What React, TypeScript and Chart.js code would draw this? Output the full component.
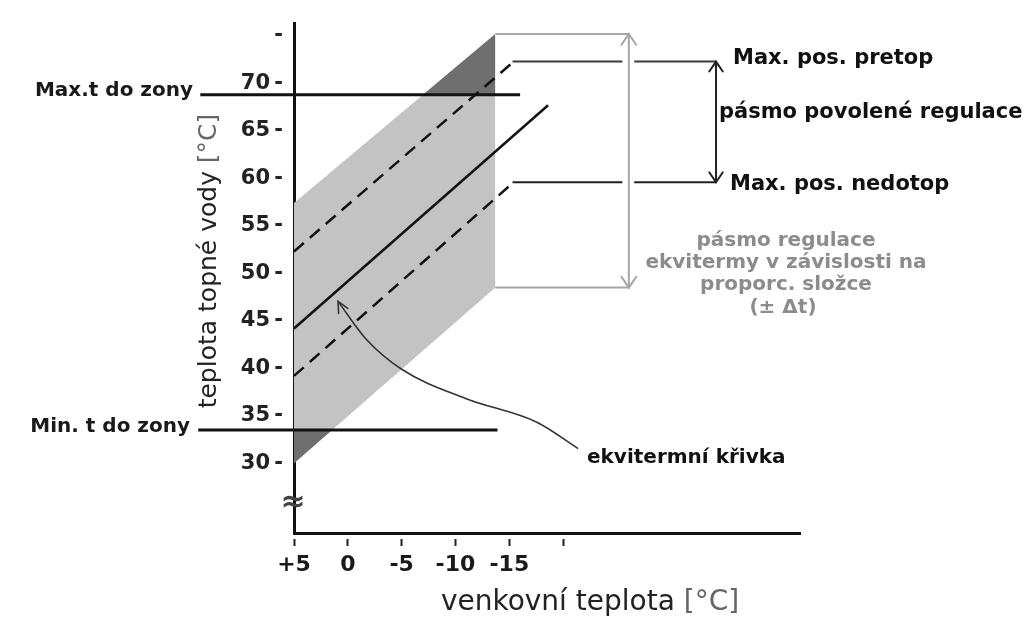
import React, { useEffect, useRef } from "react";
import { Chart, registerables } from "chart.js";

Chart.register(...registerables);

// ---------- data ----------
const X_TICKS = [5, 0, -5, -10, -15, -20];
const X_TICK_LABELS = ["+5", "0", "-5", "-10", "-15", ""];
const Y_TICKS = [30, 35, 40, 45, 50, 55, 60, 65, 70, 75];
const Y_TICK_LABELS = ["30", "35", "40", "45", "50", "55", "60", "65", "70", ""];
const X_MIN = -42;
const X_MAX = 5;
const Y_MIN = 22.66;
const Y_MAX = 76.3;

// regulation band (grey parallelogram)
const BAND_X = [5, -13.7];
const BAND_TOP = [57.4, 75.2];
const BAND_BOTTOM = [30, 48.5];
// zone limits
const MAX_T = 68.8;
const MIN_T = 33.5;
const MAX_LINE_X = [13.7, -16];
const MIN_LINE_X = [13.9, -13.9];
// parts of the band outside the zone limits (dark)
const OVER_MAX_X = [-6.97, -13.7];
const OVER_MAX_Y = [68.8, 75.2];
const UNDER_MIN_X = [5, 1.46];
const UNDER_MIN_Y = [30, 33.5];
// heating curve and its allowed deviations
const CURVE_X = [5, -18.6];
const CURVE_Y = [44.2, 67.7];
const UPPER_X = [5, -15.1];
const UPPER_Y = [52.3, 72.0];
const LOWER_X = [5, -15.3];
const LOWER_Y = [39.2, 59.5];
const PRETOP = 72.3;
const NEDOTOP = 59.6;
const LIMIT_X = [-15.3, -25.5, -26.05, -26.6, -34.2];
// proportional regulation bracket (grey)
const REG_X = [-13.7, -26.1, -26.1, -13.7];
const REG_Y = [75.2, 75.2, 48.5, 48.5];
// allowed regulation bracket (black)
const BRACKET_X = [-34.2, -34.2];
const BRACKET_Y = [PRETOP, NEDOTOP];
// pointer to the heating curve
const POINTER_X = [0.91, -1.6, -5.0, -11.0, -17.6, -21.39];
const POINTER_Y = [47.05, 43.2, 39.9, 36.8, 34.3, 31.55];

const FONT = '"DejaVu Sans", Verdana, sans-serif';

const pts = (xs: number[], ys: (number | null)[]) => xs.map((x, i) => ({ x, y: ys[i] }));

function arrowHead(
  ctx: CanvasRenderingContext2D,
  tx: number,
  ty: number,
  fx: number,
  fy: number,
  len: number,
  spread: number,
  color: string,
  width: number
) {
  const ang = Math.atan2(ty - fy, tx - fx);
  ctx.save();
  ctx.strokeStyle = color;
  ctx.lineWidth = width;
  ctx.lineCap = "round";
  ctx.beginPath();
  ctx.moveTo(tx - len * Math.cos(ang - spread), ty - len * Math.sin(ang - spread));
  ctx.lineTo(tx, ty);
  ctx.lineTo(tx - len * Math.cos(ang + spread), ty - len * Math.sin(ang + spread));
  ctx.stroke();
  ctx.restore();
}

function text(
  ctx: CanvasRenderingContext2D,
  s: string,
  x: number,
  y: number,
  font: string,
  color: string,
  align: CanvasTextAlign = "left"
) {
  ctx.save();
  ctx.font = font;
  ctx.fillStyle = color;
  ctx.textAlign = align;
  ctx.textBaseline = "middle";
  ctx.fillText(s, x, y);
  ctx.restore();
}

const annotations = {
  id: "annotations",
  afterDraw(chart: any) {
    const ctx: CanvasRenderingContext2D = chart.ctx;
    const X = chart.scales.x;
    const Y = chart.scales.y;
    const px = (v: number) => X.getPixelForValue(v);
    const py = (v: number) => Y.getPixelForValue(v);

    // arrow heads of the brackets
    arrowHead(ctx, px(REG_X[1]), py(REG_Y[1]), px(REG_X[1]), py(REG_Y[1]) + 10, 13, 0.6, "#a6a6a6", 2);
    arrowHead(ctx, px(REG_X[2]), py(REG_Y[2]), px(REG_X[2]), py(REG_Y[2]) - 10, 13, 0.6, "#a6a6a6", 2);
    arrowHead(ctx, px(BRACKET_X[0]), py(BRACKET_Y[0]), px(BRACKET_X[0]), py(BRACKET_Y[0]) + 10, 12, 0.6, "#222", 2);
    arrowHead(ctx, px(BRACKET_X[1]), py(BRACKET_Y[1]), px(BRACKET_X[1]), py(BRACKET_Y[1]) - 10, 12, 0.6, "#222", 2);
    // pointer arrow head
    arrowHead(ctx, px(POINTER_X[0]), py(POINTER_Y[0]), px(POINTER_X[0]) + 6, py(POINTER_Y[0]) + 11, 12, 0.45, "#333", 1.6);

    // axis break
    text(ctx, "\u2248", X.left - 1, 503, `bold 30px ${FONT}`, "#444", "center");

    // left labels
    const lab = `bold 20px ${FONT}`;
    text(ctx, "Max.t do zony", 193, py(MAX_T) - 4, lab, "#1a1a1a", "right");
    text(ctx, "Min. t do zony", 190, py(MIN_T) - 3, lab, "#1a1a1a", "right");

    // right labels
    const rl = `bold 21px ${FONT}`;
    text(ctx, "Max. pos. pretop", 733, py(PRETOP) - 3, rl, "#111", "left");
    text(ctx, "pásmo povolené regulace", 719, 113, rl, "#111", "left");
    text(ctx, "Max. pos. nedotop", 730, py(NEDOTOP) + 2, rl, "#111", "left");

    const gl = `bold 20px ${FONT}`;
    const gc = "#8c8c8c";
    text(ctx, "pásmo regulace", 786, 241, gl, gc, "center");
    text(ctx, "ekvitermy v závislosti na", 786, 263, gl, gc, "center");
    text(ctx, "proporc. složce", 786, 285, gl, gc, "center");
    text(ctx, "(\u00B1 \u0394t)", 783, 308, gl, gc, "center");

    text(ctx, "ekvitermní křivka", 587, 458, `bold 20px ${FONT}`, "#111", "left");

    // axis titles
    ctx.save();
    ctx.translate(209, 261);
    ctx.rotate(-Math.PI / 2);
    ctx.font = `25px ${FONT}`;
    ctx.textBaseline = "middle";
    const t1 = "teplota topné vody ";
    const t2 = "[°C]";
    const w1 = ctx.measureText(t1).width;
    const w2 = ctx.measureText(t2).width;
    const start = -(w1 + w2) / 2;
    ctx.fillStyle = "#222";
    ctx.textAlign = "left";
    ctx.fillText(t1, start, 0);
    ctx.fillStyle = "#666";
    ctx.fillText(t2, start + w1, 0);
    ctx.restore();

    ctx.save();
    ctx.font = `28px ${FONT}`;
    ctx.textBaseline = "middle";
    const s1 = "venkovní teplota ";
    const s2 = "[°C]";
    const v1 = ctx.measureText(s1).width;
    const v2 = ctx.measureText(s2).width;
    const sx = 590 - (v1 + v2) / 2;
    ctx.fillStyle = "#222";
    ctx.fillText(s1, sx, 603);
    ctx.fillStyle = "#666";
    ctx.fillText(s2, sx + v1, 603);
    ctx.restore();
  },
};

export default function App() {
  const ref = useRef<HTMLCanvasElement>(null);

  useEffect(() => {
    document.body.style.margin = "0";
    const canvas = ref.current!;
    const none = "rgba(0,0,0,0)";
    const base = { pointRadius: 0, pointHoverRadius: 0, fill: false, tension: 0 };

    const datasets: any[] = [
      { ...base, label: "band top", data: pts(BAND_X, BAND_TOP), borderColor: none, borderWidth: 0, backgroundColor: "#c3c3c3", fill: "+1", order: 100 },
      { ...base, label: "band bottom", data: pts(BAND_X, BAND_BOTTOM), borderColor: none, borderWidth: 0, order: 100 },
      { ...base, label: "over max", data: pts(OVER_MAX_X, OVER_MAX_Y), borderColor: none, borderWidth: 0, backgroundColor: "#6f6f6f", fill: { value: MAX_T }, order: 90 },
      { ...base, label: "under min", data: pts(UNDER_MIN_X, UNDER_MIN_Y), borderColor: none, borderWidth: 0, backgroundColor: "#6f6f6f", fill: { value: MIN_T }, order: 90 },
      { ...base, label: "reg bracket", data: pts(REG_X, REG_Y), borderColor: "#a6a6a6", borderWidth: 2, clip: false, order: 50 },
      { ...base, label: "pretop", data: pts(LIMIT_X, [PRETOP, PRETOP, null, PRETOP, PRETOP]), borderColor: "#3a3a3a", borderWidth: 2, spanGaps: false, clip: false, order: 40 },
      { ...base, label: "nedotop", data: pts(LIMIT_X, [NEDOTOP, NEDOTOP, null, NEDOTOP, NEDOTOP]), borderColor: "#222", borderWidth: 2, spanGaps: false, clip: false, order: 40 },
      { ...base, label: "bracket", data: pts(BRACKET_X, BRACKET_Y), borderColor: "#222", borderWidth: 2, clip: false, order: 40 },
      { ...base, label: "max t", data: pts(MAX_LINE_X, [MAX_T, MAX_T]), borderColor: "#111", borderWidth: 3, clip: false, order: 10 },
      { ...base, label: "min t", data: pts(MIN_LINE_X, [MIN_T, MIN_T]), borderColor: "#111", borderWidth: 3, clip: false, order: 10 },
      { ...base, label: "upper", data: pts(UPPER_X, UPPER_Y), borderColor: "#111", borderWidth: 2.5, borderDash: [13, 8], clip: false, order: 5 },
      { ...base, label: "lower", data: pts(LOWER_X, LOWER_Y), borderColor: "#111", borderWidth: 2.5, borderDash: [13, 8], clip: false, order: 5 },
      { ...base, label: "curve", data: pts(CURVE_X, CURVE_Y), borderColor: "#111", borderWidth: 2.5, clip: false, order: 5 },
      { ...base, label: "pointer", data: pts(POINTER_X, POINTER_Y), borderColor: "#333", borderWidth: 1.6, cubicInterpolationMode: "monotone", clip: false, order: 5 },
    ];

    const chart = new Chart(canvas, {
      type: "line",
      data: { datasets },
      plugins: [annotations],
      options: {
        animation: false,
        responsive: false,
        devicePixelRatio: 1,
        events: [],
        layout: { padding: { left: 0, top: 14, right: 233, bottom: 0 } },
        plugins: { legend: { display: false }, tooltip: { enabled: false }, title: { display: false } },
        scales: {
          x: {
            type: "linear",
            reverse: true,
            min: X_MIN,
            max: X_MAX,
            afterBuildTicks: (s: any) => {
              s.ticks = X_TICKS.map((v) => ({ value: v }));
            },
            afterFit: (s: any) => {
              s.height = 85;
            },
            grid: {
              display: true,
              drawOnChartArea: false,
              drawTicks: true,
              tickLength: 13,
              tickWidth: 2,
              tickColor: "#222",
              tickBorderDash: [0, 4, 9, 60],
            },
            border: { display: true, color: "#111", width: 3 },
            ticks: {
              autoSkip: false,
              maxRotation: 0,
              padding: 6,
              color: "#1a1a1a",
              font: { family: FONT, weight: "bold", size: 22 },
              callback: (v: any) => X_TICK_LABELS[X_TICKS.indexOf(Number(v))] ?? "",
            },
          },
          y: {
            type: "linear",
            min: Y_MIN,
            max: Y_MAX,
            afterBuildTicks: (s: any) => {
              s.ticks = Y_TICKS.map((v) => ({ value: v }));
            },
            afterFit: (s: any) => {
              s.width = 294;
            },
            grid: { display: false, drawTicks: false },
            border: { display: true, color: "#111", width: 3 },
            ticks: {
              autoSkip: false,
              padding: 11,
              color: "#222",
              font: { family: FONT, weight: "bold", size: 21 },
              callback: (v: any) => {
                const l = Y_TICK_LABELS[Y_TICKS.indexOf(Number(v))];
                return l ? `${l}\u2009-` : "-";
              },
            },
          },
        },
      } as any,
    });
    return () => chart.destroy();
  }, []);

  return <canvas ref={ref} width={1033} height={618} style={{ display: "block" }} />;
}
